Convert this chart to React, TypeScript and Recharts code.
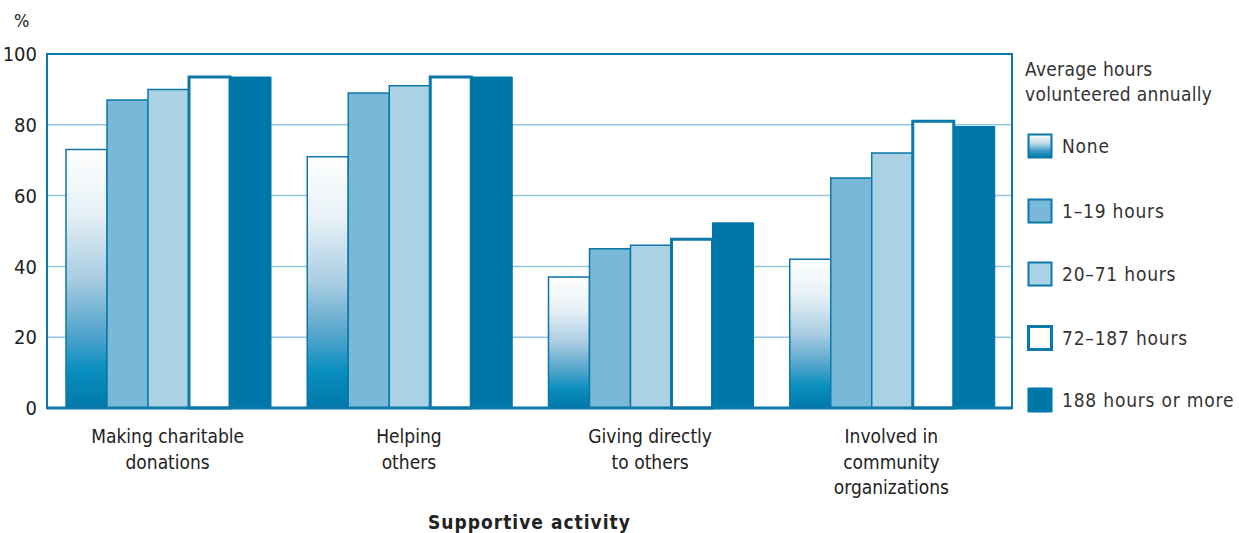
import React from 'react';
import { BarChart, Bar, XAxis, YAxis, CartesianGrid, ReferenceArea } from 'recharts';

const categories = [
  'Making charitable\ndonations',
  'Helping\nothers',
  'Giving directly\nto others',
  'Involved in\ncommunity\norganizations',
];
const seriesNames = ['None', '1\u201319 hours', '20\u201371 hours', '72\u2013187 hours', '188 hours or more'];
const none = [73, 71, 37, 42];
const h1to19 = [87, 89, 45, 65];
const h20to71 = [90, 91, 46, 72];
const h72to187 = [93.5, 93.5, 47.7, 81];
const h188plus = [93.5, 93.5, 52.3, 79.5];
const yTicks = [0, 20, 40, 60, 80, 100];

const data = categories.map((name, i) => ({
  name,
  s0: none[i],
  s1: h1to19[i],
  s2: h20to71[i],
  s3: h72to187[i],
  s4: h188plus[i],
}));

const FONT = "'Liberation Sans Narrow', 'DejaVu Sans Condensed', Roboto, sans-serif";
const BLUE = '#0a78a8';
const DARK = '#0077a9';
const MID = '#7ab8d7';
const LIGHT = '#aad2e4';
const GRID = '#92c7df';

const styles = [
  { key: 's0', fill: 'url(#noneGrad)', stroke: BLUE, sw: 1.5 },
  { key: 's1', fill: MID, stroke: BLUE, sw: 1.5 },
  { key: 's2', fill: LIGHT, stroke: BLUE, sw: 1.5 },
  { key: 's3', fill: '#ffffff', stroke: BLUE, sw: 3 },
  { key: 's4', fill: DARK, stroke: DARK, sw: 1 },
];

const CatTick = (props: any) => {
  const { x, y, payload } = props;
  const lines = String(payload.value).split('\n');
  return (
    <text x={x} y={y + 27} textAnchor="middle" fill="#222" fontSize={19} fontFamily={FONT}>
      {lines.map((l, i) => (
        <tspan key={i} x={x} dy={i === 0 ? 0 : 25.5}>{l}</tspan>
      ))}
    </text>
  );
};

// legend drawn beside the chart so it doesn't eat plot width
const LegendBox = () => (
  <div style={{ position: 'absolute', left: 1025, top: 55, width: 214, height: 360, fontFamily: FONT, color: '#333', fontSize: 19 }}>
    <div style={{ position: 'absolute', left: 0, top: 2, lineHeight: '25px', letterSpacing: 0.3, whiteSpace: 'nowrap' }}>
      Average hours<br />volunteered annually
    </div>
    {seriesNames.map((n, i) => {
      const s = styles[i];
      const top = [78, 143, 206, 270, 332][i];
      return (
        <div key={n} style={{ position: 'absolute', left: 2, top, display: 'flex', alignItems: 'center', whiteSpace: 'nowrap' }}>
          <svg width={26} height={26} style={{ display: 'block' }}>
            <defs>
              <linearGradient id="noneLegGrad" x1="0" y1="0" x2="0" y2="1">
                <stop offset="0%" stopColor="#ffffff" />
                <stop offset="40%" stopColor="#bcd9ea" />
                <stop offset="70%" stopColor="#3f9bc6" />
                <stop offset="100%" stopColor="#0078a8" />
              </linearGradient>
            </defs>
            <rect x={1.5} y={1.5} width={23} height={23}
              fill={i === 0 ? 'url(#noneLegGrad)' : s.fill}
              stroke={s.stroke} strokeWidth={i === 3 ? 3 : 2} />
          </svg>
          <span style={{ marginLeft: 9, letterSpacing: 0.8 }}>{n}</span>
        </div>
      );
    })}
  </div>
);

export default function App() {
  return (
    <div style={{ position: 'absolute', left: 0, top: 0, width: 1239, height: 533, background: '#fff', overflow: 'hidden' }}>
      <div style={{ position: 'absolute', left: 14, top: 10, fontFamily: FONT, fontSize: 18, color: '#222' }}>%</div>
      <div style={{ position: 'absolute', left: 0, width: 1059, top: 511, textAlign: 'center', fontFamily: FONT, fontSize: 19, fontWeight: 'bold', color: '#222', letterSpacing: 1 }}>
        Supportive activity
      </div>
      <BarChart
        width={1239}
        height={533}
        data={data}
        margin={{ top: 54, right: 227, bottom: 0, left: 0 }}
        barCategoryGap={19}
        barGap={0}
      >
        <defs>
          <linearGradient id="noneGrad" x1="0" y1="0" x2="0" y2="1">
            <stop offset="0%" stopColor="#ffffff" />
            <stop offset="25%" stopColor="#e6f0f6" />
            <stop offset="50%" stopColor="#a9cde2" />
            <stop offset="72%" stopColor="#4fa3cb" />
            <stop offset="85%" stopColor="#0a8fbf" />
            <stop offset="100%" stopColor="#0078a8" />
          </linearGradient>
        </defs>
        <CartesianGrid horizontal vertical={false} stroke={GRID} strokeWidth={1.5} />
        <ReferenceArea y1={0} y2={100} fill="none" stroke={BLUE} strokeWidth={2} />
        <XAxis
          dataKey="name"
          height={125}
          tick={<CatTick />}
          tickLine={false}
          axisLine={{ stroke: BLUE, strokeWidth: 3 }}
          interval={0}
        />
        <YAxis
          width={47}
          domain={[0, 100]}
          ticks={yTicks}
          tickLine={false}
          axisLine={{ stroke: BLUE, strokeWidth: 2 }}
          tick={{ fill: '#222', fontSize: 20, fontFamily: FONT }}
          tickMargin={4}
        />
        {styles.map((s, i) => (
          <Bar
            key={s.key}
            dataKey={s.key}
            name={seriesNames[i]}
            fill={s.fill}
            stroke={s.stroke}
            strokeWidth={s.sw}
            isAnimationActive={false}
          />
        ))}
      </BarChart>
      <LegendBox />
    </div>
  );
}
